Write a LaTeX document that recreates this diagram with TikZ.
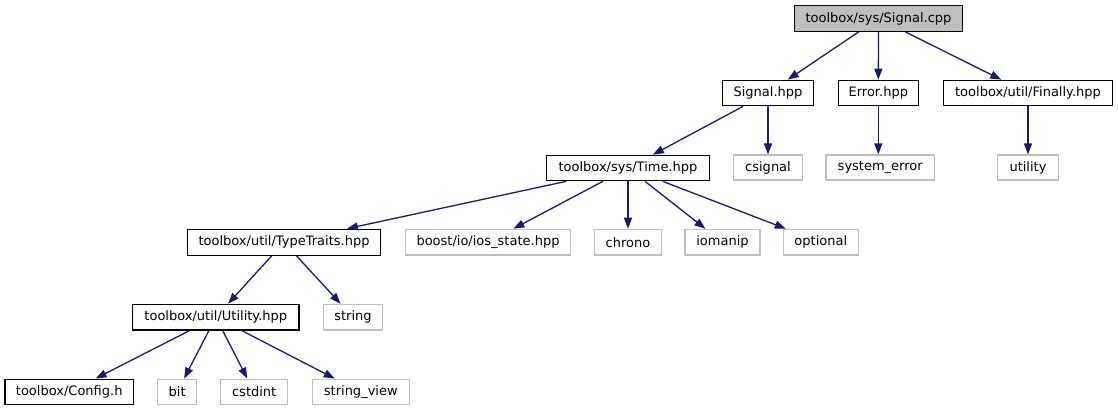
\documentclass[tikz,border=0pt]{standalone}
\usepackage{fontspec}
\setmainfont{DejaVu Sans}
\usetikzlibrary{arrows.meta}
\definecolor{edgeblue}{HTML}{191970}
\definecolor{lightbd}{HTML}{BFBFBF}
\definecolor{rootfill}{HTML}{BFBFBF}
\tikzset{
  box/.style={draw=black, line width=1.2pt, inner sep=0pt, font=\fontsize{13}{15}\selectfont, text=black},
  extbox/.style={draw=lightbd, line width=1.2pt, inner sep=0pt, font=\fontsize{13}{15}\selectfont, text=black},
  rootbox/.style={box, fill=rootfill},
  dep/.style={draw=edgeblue, line width=1.3pt, -{Triangle[length=11pt,width=8pt]}},
}
\begin{document}
\begin{tikzpicture}[x=1pt,y=-1pt]
\useasboundingbox (0,0) rectangle (1118,411);
% row 0
\node[rootbox, minimum width=168pt, minimum height=25.5pt] (cpp) at (878.5,18.5) {toolbox/sys/Signal.cpp};
% row 1
\node[box, minimum width=90.5pt, minimum height=25.5pt] (sig) at (768,93) {Signal.hpp};
\node[box, minimum width=80pt, minimum height=25.5pt] (err) at (878.3,93) {Error.hpp};
\node[box, minimum width=169.5pt, minimum height=25.5pt] (fin) at (1028,93) {toolbox/util/Finally.hpp};
% row 2
\node[box, minimum width=162.5pt, minimum height=25.5pt] (time) at (628,168) {toolbox/sys/Time.hpp};
\node[extbox, minimum width=68.5pt, minimum height=25pt] (csig) at (768,167.5) {csignal};
\node[extbox, minimum width=108.3pt, minimum height=25pt] (syserr) at (880.2,167.5) {system\_error};
\node[extbox, minimum width=60.5pt, minimum height=25pt] (util) at (1028,167.5) {utility};
% row 3
\node[box, minimum width=193.7pt, minimum height=26pt] (tt) at (284,242.3) {toolbox/util/TypeTraits.hpp};
\node[extbox, minimum width=165.7pt, minimum height=25.7pt] (boost) at (488,242.2) {boost/io/ios\_state.hpp};
\node[extbox, minimum width=66.7pt, minimum height=25.7pt] (chrono) at (628,242.2) {chrono};
\node[extbox, minimum width=75pt, minimum height=25.7pt] (ioman) at (722.5,242.2) {iomanip};
\node[extbox, minimum width=75pt, minimum height=25.7pt] (opt) at (820.8,242.2) {optional};
% row 4
\node[box, minimum width=166.3pt, minimum height=25.7pt] (ut) at (215.8,317.2) {toolbox/util/Utility.hpp};
\node[extbox, minimum width=59.4pt, minimum height=25.7pt] (str) at (353,317.2) {string};
% row 5
\node[box, minimum width=128.3pt, minimum height=25.7pt] (cfg) at (69.2,392) {toolbox/Config.h};
\node[extbox, minimum width=39pt, minimum height=25.7pt] (bit) at (177.2,392) {bit};
\node[extbox, minimum width=67pt, minimum height=25.7pt] (cstd) at (254.2,392) {cstdint};
\node[extbox, minimum width=97pt, minimum height=25.7pt] (sv) at (360.8,392) {string\_view};
% edges
\draw[dep] (cpp) -- (sig);
\draw[dep] (cpp) -- (err);
\draw[dep] (cpp) -- (fin);
\draw[dep] (sig) -- (time);
\draw[dep] (sig.south) -- (csig.north);
\draw[dep] (err.south) -- (syserr.north -| err.south);
\draw[dep] (fin.south) -- (util.north);
\draw[dep] (time) -- (tt);
\draw[dep] (time) -- (boost);
\draw[dep] (time.south) -- (chrono.north);
\draw[dep] (time) -- (ioman);
\draw[dep] (time) -- (opt);
\draw[dep] (tt) -- (ut);
\draw[dep] (tt) -- (str);
\draw[dep] (ut) -- (cfg);
\draw[dep] (ut) -- (bit);
\draw[dep] (ut) -- (cstd);
\draw[dep] (ut) -- (sv);
\end{tikzpicture}
\end{document}
